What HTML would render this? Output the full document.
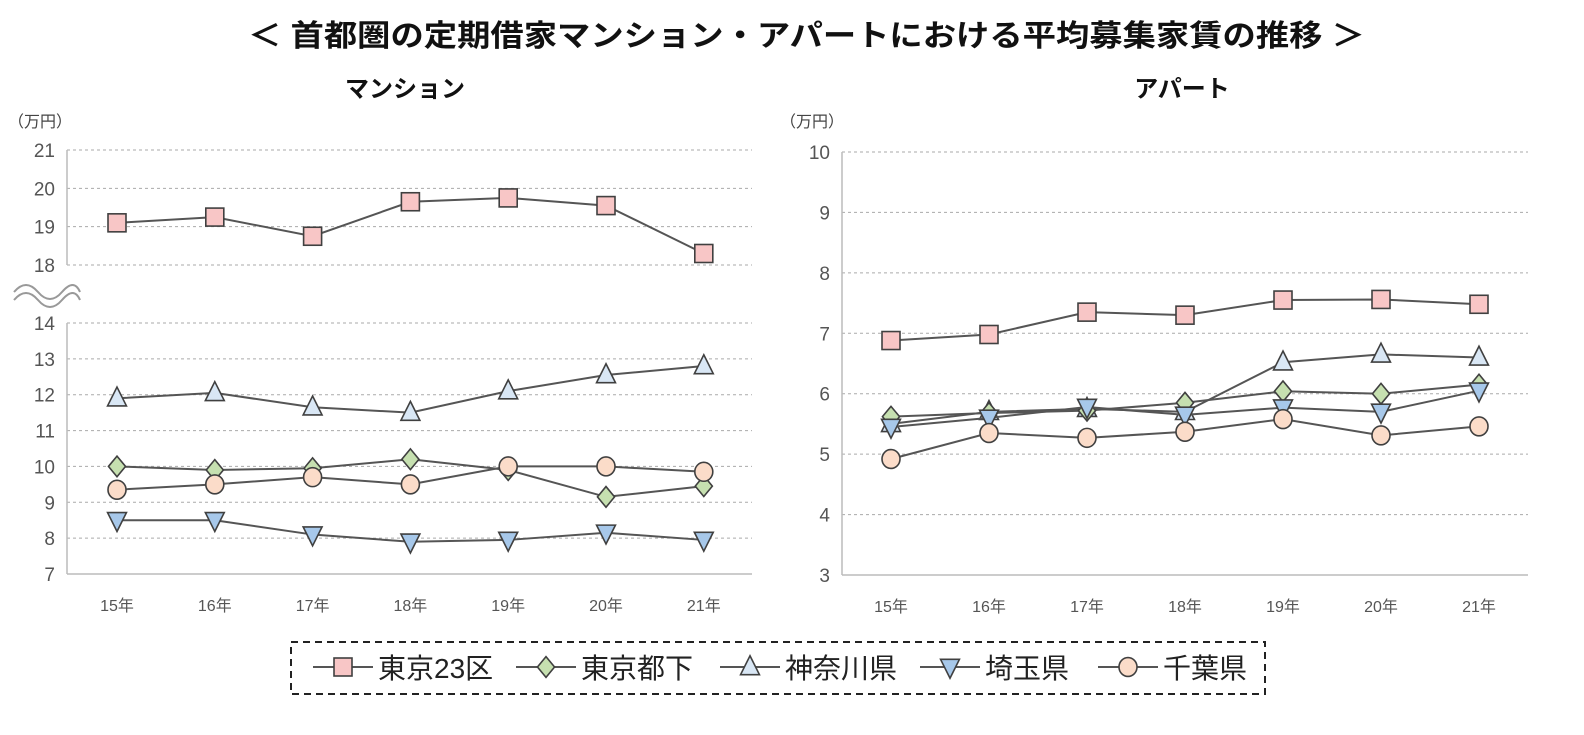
<!DOCTYPE html>
<html><head><meta charset="utf-8"><style>
html,body{margin:0;padding:0;background:#fff;}
body{width:1584px;height:730px;overflow:hidden;font-family:"Liberation Sans","Noto Sans CJK JP",sans-serif;}
</style></head><body>
<svg id="svg" width="1584" height="730" xmlns="http://www.w3.org/2000/svg" style="font-family:'Liberation Sans','Noto Sans CJK JP',sans-serif">
<text x="248" y="46" font-size="30" font-weight="bold" fill="#111" textLength="1117" lengthAdjust="spacingAndGlyphs">＜ 首都圏の定期借家マンション・アパートにおける平均募集家賃の推移 ＞</text>
<text x="405" y="97" text-anchor="middle" font-size="24" font-weight="bold" fill="#111">マンション</text>
<text x="1182" y="97" text-anchor="middle" font-size="24" font-weight="bold" fill="#111">アパート</text>
<text x="8" y="127" font-size="16" fill="#444">（万円）</text>
<text x="780" y="127" font-size="16" fill="#444">（万円）</text>
<g fill="none" stroke="#999" stroke-width="2">
<path d="M14,292 Q26,278 38,292 T62,292 T80,292"/>
<path d="M14,300 Q26,286 38,300 T62,300 T80,300"/>
</g>
<rect x="291" y="642" width="974" height="52" fill="none" stroke="#222" stroke-width="2" stroke-dasharray="7,5"/>
<g id="plots"></g>
<g id="legend"></g>
</svg>
<script>
const categories = ["15年","16年","17年","18年","19年","20年","21年"];
const seriesNames = ["東京23区","東京都下","神奈川県","埼玉県","千葉県"];
const mansionTokyo23 = [19.1,19.25,18.75,19.65,19.75,19.55,18.3];
const mansionToka = [10.0,9.9,9.95,10.2,9.9,9.15,9.45];
const mansionKanagawa = [11.9,12.05,11.65,11.5,12.1,12.55,12.8];
const mansionSaitama = [8.5,8.5,8.1,7.9,7.95,8.15,7.95];
const mansionChiba = [9.35,9.5,9.7,9.5,10.0,10.0,9.85];
const apartTokyo23 = [6.88,6.98,7.35,7.3,7.55,7.56,7.48];
const apartToka = [5.62,5.68,5.72,5.85,6.04,6.0,6.15];
const apartKanagawa = [5.5,5.7,5.75,5.7,6.52,6.65,6.6];
const apartSaitama = [5.45,5.6,5.78,5.65,5.77,5.7,6.05];
const apartChiba = [4.92,5.35,5.27,5.37,5.58,5.31,5.46];
const mansionTopTicks = [18,19,20,21];
const mansionBottomTicks = [7,8,9,10,11,12,13,14];
const apartTicks = [3,4,5,6,7,8,9,10];

const NS="http://www.w3.org/2000/svg";
const plots=document.getElementById('plots');
function mk(tag,attrs,parent){const e=document.createElementNS(NS,tag);for(const k in attrs)e.setAttribute(k,attrs[k]);(parent||plots).appendChild(e);return e;}
const fills=["#f8c6c6","#c6e0b0","#d9e7f5","#a7c8ea","#fbdcc9"];
const shapes=["square","diamond","tri","dtri","circle"];
function marker(shape,x,y,s,fill,parent){
  let e;const st={fill:fill,stroke:"#404040","stroke-width":1.6};
  if(shape==="square"){e=mk('rect',Object.assign({x:x-s,y:y-s,width:2*s,height:2*s},st),parent);}
  else if(shape==="diamond"){e=mk('polygon',Object.assign({points:`${x},${y-s*1.15} ${x+s*0.95},${y} ${x},${y+s*1.15} ${x-s*0.95},${y}`},st),parent);}
  else if(shape==="tri"){e=mk('polygon',Object.assign({points:`${x},${y-s*1.25} ${x+s*1.05},${y+s*0.85} ${x-s*1.05},${y+s*0.85}`},st),parent);}
  else if(shape==="dtri"){e=mk('polygon',Object.assign({points:`${x},${y+s*1.25} ${x+s*1.05},${y-s*0.85} ${x-s*1.05},${y-s*0.85}`},st),parent);}
  else {e=mk('ellipse',Object.assign({cx:x,cy:y,rx:s,ry:s*1.05},st),parent);}
  return e;
}
function panel(name,x0,x1,yTopPx,yBotPx,vTop,vBot,ticks,drawLeft){
  const yf=v=>yBotPx-(v-vBot)/(vTop-vBot)*(yBotPx-yTopPx);
  const g=mk('g',{});
  
  
  ticks.forEach(t=>{
    const y=yf(t);
    const l=mk('line',{x1:x0,x2:x1,y1:y,y2:y,stroke:"#aaa","stroke-width":1,"stroke-dasharray":"3,3"},g);
    
    
    const tx=mk('text',{x:x0-12,y:y+7,"text-anchor":"end","font-size":19,fill:"#555"},g);
    tx.textContent=t;
    
    
  });
  const ax=mk('line',{x1:x0,x2:x0,y1:yTopPx,y2:yBotPx,stroke:"#bbb","stroke-width":1.5},g);
  
  
  if(drawLeft){const b=mk('line',{x1:x0,x2:x1,y1:yBotPx,y2:yBotPx,stroke:"#bbb","stroke-width":1.5},g);
  
  }
  return yf;
}
function series(name,xf,yf,vals,idx){
  const g=mk('g',{});
  
  
  const pts=vals.map((v,i)=>xf(i)+","+yf(v)).join(" ");
  mk('polyline',{points:pts,fill:"none",stroke:"#555","stroke-width":2},g);
  vals.forEach((v,i)=>{const m=marker(shapes[idx],xf(i),yf(v),9,fills[idx],g);
    
    });
}
function xlabels(name,xf,y){
  categories.forEach((c,i)=>{const t=mk('text',{x:xf(i),y:y,"text-anchor":"middle","font-size":16,fill:"#555"});
  t.textContent=c;
  
  });
}
const mx=i=>117+i*97.8;
const yTop=panel('mansion-top',67,752,150,265,21,18,mansionTopTicks,false);
const yBot=panel('mansion-bottom',67,752,323,574,14,7,mansionBottomTicks,true);
series('mansion-tokyo23-series',mx,yTop,mansionTokyo23,0);
series('mansion-kanagawa-series',mx,yBot,mansionKanagawa,2);
series('mansion-toka-series',mx,yBot,mansionToka,1);
series('mansion-chiba-series',mx,yBot,mansionChiba,4);
series('mansion-saitama-series',mx,yBot,mansionSaitama,3);
xlabels('mansion',mx,611);
const ax_=i=>891+i*98;
const ya=panel('apart',842,1528,152,575,10,3,apartTicks,true);
series('apart-tokyo23-series',ax_,ya,apartTokyo23,0);
series('apart-kanagawa-series',ax_,ya,apartKanagawa,2);
series('apart-toka-series',ax_,ya,apartToka,1);
series('apart-saitama-series',ax_,ya,apartSaitama,3);
series('apart-chiba-series',ax_,ya,apartChiba,4);
xlabels('apart',ax_,612);
const leg=document.getElementById('legend');
const legX=[313,516,720,920,1098];
seriesNames.forEach((n,i)=>{
  const g=mk('g',{},leg);
  
  
  mk('line',{x1:legX[i],x2:legX[i]+60,y1:667,y2:667,stroke:"#555","stroke-width":2},g);
  marker(shapes[i],legX[i]+30,667,9,fills[i],g);
  const t=mk('text',{x:legX[i]+65,y:678,"font-size":28,fill:"#222"},g);
  t.textContent=n;
});
</script>
</body></html>
